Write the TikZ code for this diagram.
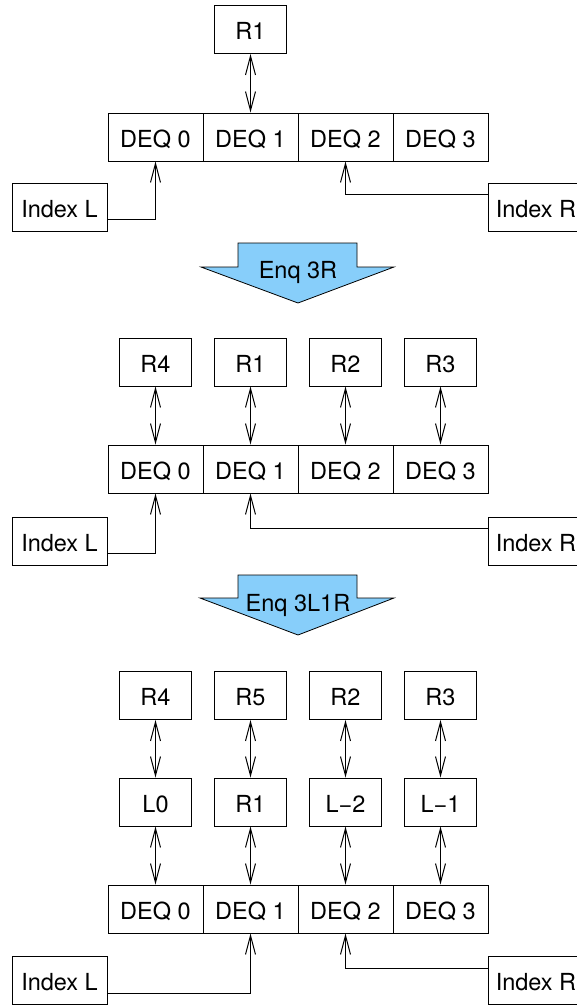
\documentclass[tikz,border=0pt]{standalone}
\usepackage{fontspec}
\setmainfont{TeX Gyre Heros}
\usetikzlibrary{arrows.meta}
\definecolor{enqblue}{RGB}{135,206,250}
\begin{document}
\begin{tikzpicture}[x=1pt,y=-1pt,
  every node/.style={font=\fontsize{23.5}{28}\selectfont},
  box/.style={draw, line width=1pt, minimum height=48pt, inner sep=0pt, text height=21pt, text depth=0.5pt},
  rbox/.style={box, minimum width=72pt},
  deqbox/.style={box, minimum width=95pt},
  idxbox/.style={box, minimum width=95pt},
  link/.style={line width=1pt, {Straight Barb[length=19pt,width=10pt]}-{Straight Barb[length=19pt,width=10pt]}},
  ptr/.style={line width=1pt, -{Straight Barb[length=19pt,width=10pt]}},
  bigarrow/.style={draw, line width=0.8pt, fill=enqblue},
  lbl/.style={inner sep=0pt, text height=16.8pt, text depth=0pt}]
\useasboundingbox (0,0) rectangle (577,1005);

% ---------- Section 1 ----------
\node[rbox] (a r1) at (250.5,29.5) {R1};
\node[deqbox] (a d0) at (155.5,137) {DEQ 0};
\node[deqbox] (a d1) at (250.5,137) {DEQ 1};
\node[deqbox] (a d2) at (345.5,137) {DEQ 2};
\node[deqbox] (a d3) at (440.5,137) {DEQ 3};
\node[idxbox] (a iL) at (59.5,207) {Index L};
\node[idxbox, anchor=west] (a iR) at (488,207) {Index R};
\draw[link] (a r1.south) -- (a d1.north);
\draw[ptr] ([yshift=12pt]a iL.south east) -| (a d0.south);
\draw[ptr] ([yshift=-12pt]a iR.north west) -| (a d2.south);

% ---------- Enq 3R ----------
\draw[bigarrow] (238,243) -- (357,243) -- (357,267) -- (394,267) -- (298,303) -- (201,267) -- (238,267) -- cycle;
\node[lbl] (enq1) at (298,270.5) {Enq 3R};

% ---------- Section 2 ----------
\node[rbox] (b r4) at (155.5,362) {R4};
\node[rbox] (b r1) at (250.5,362) {R1};
\node[rbox] (b r2) at (345.5,362) {R2};
\node[rbox] (b r3) at (440.5,362) {R3};
\node[deqbox] (b d0) at (155.5,469) {DEQ 0};
\node[deqbox] (b d1) at (250.5,469) {DEQ 1};
\node[deqbox] (b d2) at (345.5,469) {DEQ 2};
\node[deqbox] (b d3) at (440.5,469) {DEQ 3};
\node[idxbox] (b iL) at (59.5,541) {Index L};
\node[idxbox, anchor=west] (b iR) at (488,541) {Index R};
\draw[link] (b r4.south) -- (b d0.north);
\draw[link] (b r1.south) -- (b d1.north);
\draw[link] (b r2.south) -- (b d2.north);
\draw[link] (b r3.south) -- (b d3.north);
\draw[ptr] ([yshift=12pt]b iL.south east) -| (b d0.south);
\draw[ptr] ([yshift=-12pt]b iR.north west) -| (b d1.south);

% ---------- Enq 3L1R ----------
\draw[bigarrow] (238,575) -- (357,575) -- (357,598) -- (394,598) -- (298,635) -- (200,598) -- (238,598) -- cycle;
\node[lbl] (enq2) at (298,603.5) {Enq 3L1R};

% ---------- Section 3 ----------
\node[rbox] (c r4) at (155.5,695.5) {R4};
\node[rbox] (c r5) at (250.5,695.5) {R5};
\node[rbox] (c r2) at (345.5,695.5) {R2};
\node[rbox] (c r3) at (440.5,695.5) {R3};
\node[rbox] (c l0) at (155.5,802) {L0};
\node[rbox] (c r1) at (250.5,802) {R1};
\node[rbox] (c lm2) at (345.5,802) {L\textminus 2};
\node[rbox] (c lm1) at (440.5,802) {L\textminus 1};
\node[deqbox] (c d0) at (155.5,909) {DEQ 0};
\node[deqbox] (c d1) at (250.5,909) {DEQ 1};
\node[deqbox] (c d2) at (345.5,909) {DEQ 2};
\node[deqbox] (c d3) at (440.5,909) {DEQ 3};
\node[idxbox] (c iL) at (59.5,980.5) {Index L};
\node[idxbox, anchor=west] (c iR) at (488,980.5) {Index R};
\draw[link] (c r4.south) -- (c l0.north);
\draw[link] (c r5.south) -- (c r1.north);
\draw[link] (c r2.south) -- (c lm2.north);
\draw[link] (c r3.south) -- (c lm1.north);
\draw[link] (c l0.south) -- (c d0.north);
\draw[link] (c r1.south) -- (c d1.north);
\draw[link] (c lm2.south) -- (c d2.north);
\draw[link] (c lm1.south) -- (c d3.north);
\draw[ptr] ([yshift=12pt]c iL.south east) -| (c d1.south);
\draw[ptr] ([yshift=-12pt]c iR.north west) -| (c d2.south);
\end{tikzpicture}
\end{document}
